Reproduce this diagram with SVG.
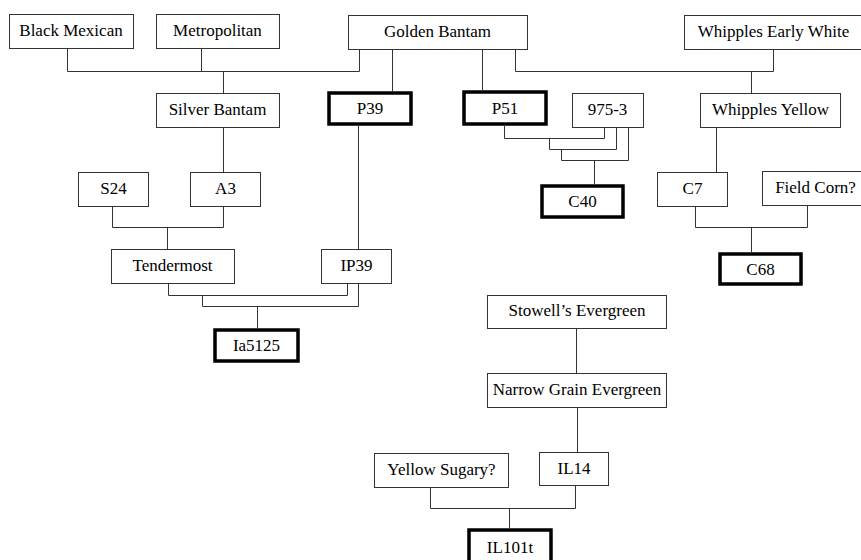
<svg xmlns="http://www.w3.org/2000/svg" width="861" height="560" viewBox="0 0 861 560">
<style>
.n rect{fill:#fff;stroke:#333;stroke-width:1}
.t rect{fill:#fff;stroke:#000;stroke-width:3.5}
text{font-family:"Liberation Serif","Times New Roman",serif;font-size:17px;fill:#000;text-anchor:middle}
.c path{fill:none;stroke:#333;stroke-width:1}
</style>
<rect width="861" height="560" fill="#fff"/>
<g id="connectors" class="c">
<path d="M67.5,48 V71.5 H359.5 V49 M201.5,48 V71.5 M223.5,71.5 V93"/>
<path d="M392.5,49 V91"/>
<path d="M482.5,49 V90"/>
<path d="M515.5,49 V71.5 H773.5 V49 M751.5,71.5 V93"/>
<path d="M504.5,126 V138.5 H604.5 V127 M549.5,138.5 V149.5 H616.5 V127 M561.5,149.5 V160.5 H628.5 V127 M594.5,160.5 V184"/>
<path d="M716.5,127 V172"/>
<path d="M695.5,206 V227.5 H807.5 V205 M751.5,227.5 V252"/>
<path d="M223.5,127 V172"/>
<path d="M112.5,206 V227.5 H223.5 V206 M167.5,227.5 V249"/>
<path d="M358.5,126 V249"/>
<path d="M168.5,283 V295.5 H347.5 V283 M202.5,295.5 V306.5 H358.5 V283 M257.5,306.5 V328"/>
<path d="M576.5,328 V373"/>
<path d="M577.5,407 V452"/>
<path d="M430.5,487 V508.5 H575.5 V485 M509.5,508.5 V528"/>
</g>
<g id="black-mexican" class="n"><rect x="9.5" y="14.5" width="124" height="34"/><text x="71" y="36">Black Mexican</text></g>
<g id="metropolitan" class="n"><rect x="156.5" y="14.5" width="123" height="34"/><text x="217.5" y="36">Metropolitan</text></g>
<g id="golden-bantam" class="n"><rect x="348.5" y="15.5" width="179" height="34"/><text x="437.5" y="37">Golden Bantam</text></g>
<g id="whipples-early-white" class="n"><rect x="684.5" y="15.5" width="180" height="34"/><text x="773.5" y="37">Whipples Early White</text></g>
<g id="silver-bantam" class="n"><rect x="156.5" y="93.5" width="123" height="34"/><text x="217.5" y="114.5">Silver Bantam</text></g>
<g id="p39" class="t"><rect x="329" y="93" width="82" height="31"/><text x="370" y="114">P39</text></g>
<g id="p51" class="t"><rect x="464" y="92" width="82" height="32"/><text x="505" y="113.5">P51</text></g>
<g id="n975-3" class="n"><rect x="572.5" y="93.5" width="71" height="34"/><text x="607.5" y="114.5">975-3</text></g>
<g id="whipples-yellow" class="n"><rect x="700.5" y="93.5" width="140" height="34"/><text x="770.5" y="114.5">Whipples Yellow</text></g>
<g id="s24" class="n"><rect x="78.5" y="172.5" width="70" height="34"/><text x="113.5" y="193.5">S24</text></g>
<g id="a3" class="n"><rect x="190.5" y="172.5" width="70" height="34"/><text x="225.5" y="193.5">A3</text></g>
<g id="c40" class="t"><rect x="542" y="186" width="81" height="31"/><text x="582.5" y="207">C40</text></g>
<g id="c7" class="n"><rect x="657.5" y="172.5" width="70" height="34"/><text x="692.5" y="193.5">C7</text></g>
<g id="field-corn" class="n"><rect x="762.5" y="171.5" width="106" height="34"/><text x="815.5" y="192.5">Field Corn?</text></g>
<g id="tendermost" class="n"><rect x="111.5" y="249.5" width="123" height="34"/><text x="172.5" y="270.5">Tendermost</text></g>
<g id="ip39" class="n"><rect x="321.5" y="249.5" width="70" height="34"/><text x="356.5" y="270.5">IP39</text></g>
<g id="c68" class="t"><rect x="720" y="254" width="81" height="30"/><text x="760.5" y="274.5">C68</text></g>
<g id="ia5125" class="t"><rect x="215" y="330" width="83" height="31"/><text x="256.5" y="351">Ia5125</text></g>
<g id="stowells-evergreen" class="n"><rect x="487.5" y="295.5" width="179" height="33"/><text x="577" y="316">Stowell’s Evergreen</text></g>
<g id="narrow-grain-evergreen" class="n"><rect x="487.5" y="373.5" width="179" height="34"/><text x="577" y="395">Narrow Grain Evergreen</text></g>
<g id="yellow-sugary" class="n"><rect x="374.5" y="453.5" width="134" height="34"/><text x="441.5" y="474.5">Yellow Sugary?</text></g>
<g id="il14" class="n"><rect x="539.5" y="452.5" width="69" height="33"/><text x="574" y="473.5">IL14</text></g>
<g id="il101t" class="t"><rect x="469" y="530" width="82" height="36"/><text x="510" y="553">IL101t</text></g>
</svg>
